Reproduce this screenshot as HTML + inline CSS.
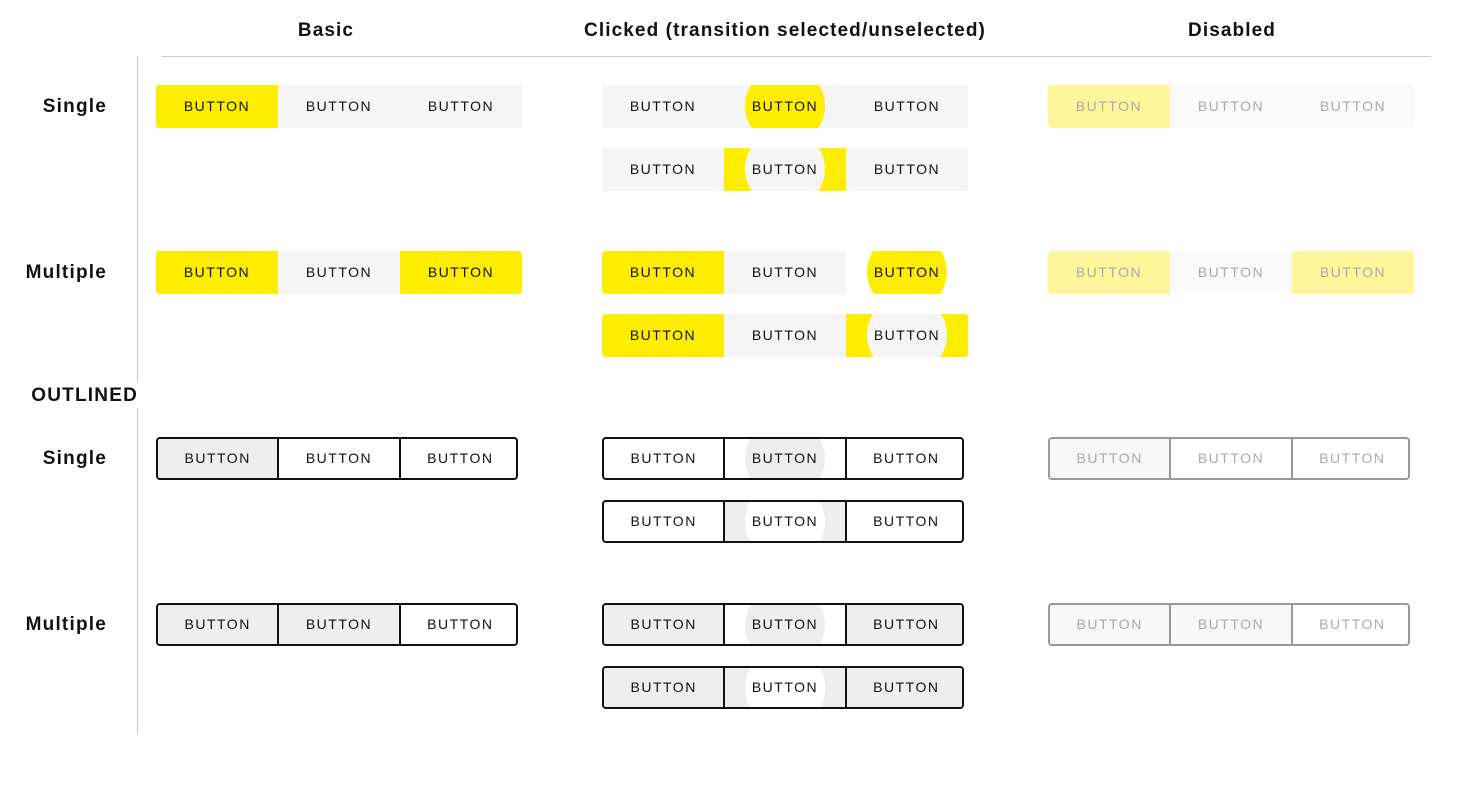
<!DOCTYPE html>
<html><head><meta charset="utf-8"><style>
body{margin:0;width:1481px;height:789px;background:#fff;position:relative;overflow:hidden;font-family:"Liberation Sans",sans-serif;color:#111}
.h{position:absolute;top:20px;font-size:19px;font-weight:bold;letter-spacing:1.1px;text-align:center;width:500px}
.l{position:absolute;right:1374px;font-size:19px;font-weight:bold;letter-spacing:1.2px;white-space:nowrap}
.g{position:absolute;width:366px;height:43px;border-radius:3px;overflow:hidden;display:flex;background:#f5f5f5}
.s{position:relative;width:122px;height:43px;line-height:43px;text-align:center;font-size:14px;letter-spacing:1.5px;overflow:hidden;flex:none}
.s b{position:relative;font-weight:normal;z-index:1}
.c{position:absolute;left:21px;top:-19px;width:80px;height:80px;border-radius:50%}
.o{position:absolute;width:362px;height:43px;box-sizing:border-box;border:2px solid #111;border-radius:4px;overflow:hidden;display:flex;background:#fff}
.o .s{width:119.33px;height:39px;line-height:39px}
.o .s+.s{border-left:2px solid #111}
.o.d{border-color:#999}.o.d .s+.s{border-left-color:#999}
.o .c{left:20px;top:-20px}
.y{background:#ffed00}.e{background:#eee}.w{background:#fff}.f{background:#f5f5f5}
.dy{background:#fff59a}.df{background:#fafafa}.dg{background:#f7f7f7}
.dt{color:#aaa}
</style></head><body>
<div class="h" style="left:76px">Basic</div>
<div class="h" style="left:535px">Clicked (transition selected/unselected)</div>
<div class="h" style="left:982px">Disabled</div>
<div style="position:absolute;left:162px;top:56px;width:1269px;height:1px;background:#ccc"></div>
<div style="position:absolute;left:137px;top:56px;width:1px;height:326px;background:#ccc"></div>
<div style="position:absolute;left:137px;top:408px;width:1px;height:326px;background:#ccc"></div>
<div class="l" style="top:96px">Single</div>
<div class="l" style="top:262px">Multiple</div>
<div class="l" style="top:385px;right:1343px">OUTLINED</div>
<div class="l" style="top:448px">Single</div>
<div class="l" style="top:614px">Multiple</div>

<div class="g" style="left:156px;top:85px"><div class="s y"><b>BUTTON</b></div><div class="s"><b>BUTTON</b></div><div class="s"><b>BUTTON</b></div></div>
<div class="g" style="left:602px;top:85px"><div class="s"><b>BUTTON</b></div><div class="s"><i class="c y"></i><b>BUTTON</b></div><div class="s"><b>BUTTON</b></div></div>
<div class="g" style="left:602px;top:148px"><div class="s"><b>BUTTON</b></div><div class="s y"><i class="c f"></i><b>BUTTON</b></div><div class="s"><b>BUTTON</b></div></div>
<div class="g dt" style="left:1048px;top:85px;background:#fafafa"><div class="s dy"><b>BUTTON</b></div><div class="s"><b>BUTTON</b></div><div class="s"><b>BUTTON</b></div></div>

<div class="g" style="left:156px;top:251px"><div class="s y"><b>BUTTON</b></div><div class="s"><b>BUTTON</b></div><div class="s y"><b>BUTTON</b></div></div>
<div class="g" style="left:602px;top:251px"><div class="s y"><b>BUTTON</b></div><div class="s"><b>BUTTON</b></div><div class="s w"><i class="c y"></i><b>BUTTON</b></div></div>
<div class="g" style="left:602px;top:314px"><div class="s y"><b>BUTTON</b></div><div class="s"><b>BUTTON</b></div><div class="s y"><i class="c f"></i><b>BUTTON</b></div></div>
<div class="g dt" style="left:1048px;top:251px;background:#fafafa"><div class="s dy"><b>BUTTON</b></div><div class="s"><b>BUTTON</b></div><div class="s dy"><b>BUTTON</b></div></div>

<div class="o" style="left:156px;top:437px"><div class="s e"><b>BUTTON</b></div><div class="s"><b>BUTTON</b></div><div class="s"><b>BUTTON</b></div></div>
<div class="o" style="left:602px;top:437px"><div class="s"><b>BUTTON</b></div><div class="s"><i class="c e"></i><b>BUTTON</b></div><div class="s"><b>BUTTON</b></div></div>
<div class="o" style="left:602px;top:500px"><div class="s"><b>BUTTON</b></div><div class="s e"><i class="c w"></i><b>BUTTON</b></div><div class="s"><b>BUTTON</b></div></div>
<div class="o d dt" style="left:1048px;top:437px"><div class="s dg"><b>BUTTON</b></div><div class="s"><b>BUTTON</b></div><div class="s"><b>BUTTON</b></div></div>

<div class="o" style="left:156px;top:603px"><div class="s e"><b>BUTTON</b></div><div class="s e"><b>BUTTON</b></div><div class="s"><b>BUTTON</b></div></div>
<div class="o" style="left:602px;top:603px"><div class="s e"><b>BUTTON</b></div><div class="s"><i class="c e"></i><b>BUTTON</b></div><div class="s e"><b>BUTTON</b></div></div>
<div class="o" style="left:602px;top:666px"><div class="s e"><b>BUTTON</b></div><div class="s e"><i class="c w"></i><b>BUTTON</b></div><div class="s e"><b>BUTTON</b></div></div>
<div class="o d dt" style="left:1048px;top:603px"><div class="s dg"><b>BUTTON</b></div><div class="s dg"><b>BUTTON</b></div><div class="s"><b>BUTTON</b></div></div>
</body></html>
